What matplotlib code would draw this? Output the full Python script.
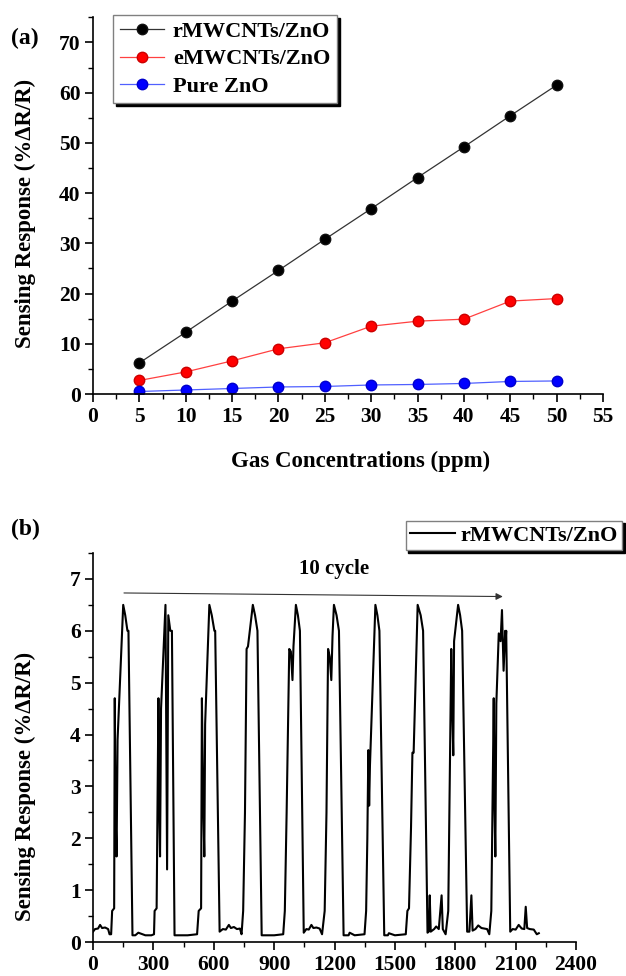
import matplotlib
matplotlib.use("Agg")
import matplotlib.pyplot as plt
from matplotlib.ticker import MultipleLocator

plt.rcParams['font.family'] = ['Liberation Serif', 'DejaVu Serif']
plt.rcParams['font.weight'] = 'bold'

# ---- panel (a): response vs concentration ----
conc = [5, 10, 15, 20, 25, 30, 35, 40, 45, 50]
r_mwcnt = [6.2, 12.3, 18.5, 24.6, 30.8, 36.9, 43.1, 49.2, 55.4, 61.5]
e_mwcnt = [2.7, 4.4, 6.6, 9.0, 10.2, 13.5, 14.5, 14.9, 18.5, 19.0]
pure_zno = [0.5, 0.8, 1.1, 1.4, 1.5, 1.8, 1.9, 2.1, 2.5, 2.6]

# ---- panel (b): 10 cycles of rMWCNTs/ZnO ----
t_cyc = [0, 10, 25, 35, 45, 60, 75, 82, 90, 95, 105, 108, 112, 117, 122, 150, 160, 171, 176, 196,
         210, 225, 260, 290, 303, 306, 316, 325, 329, 333, 338, 360, 364, 368, 374, 384, 392, 405,
         430, 470, 517, 525, 537, 541, 547, 553, 557, 578, 590, 603, 607, 629,
         645, 660, 675, 685, 700, 715, 730, 738, 746, 755, 763, 770, 794, 805, 817, 838,
         860, 900, 945, 953, 962, 975, 983, 991, 996, 1008, 1018, 1028, 1047,
         1060, 1072, 1085, 1095, 1110, 1126, 1138, 1151, 1160, 1168, 1176, 1184, 1190, 1197, 1210, 1222, 1245,
         1270, 1275, 1300, 1349, 1357, 1363, 1368, 1372, 1376, 1403, 1413, 1423, 1447,
         1465, 1470, 1500, 1554, 1562, 1570, 1580, 1587, 1593, 1613, 1628, 1640, 1662,
         1668, 1673, 1678, 1695, 1705, 1718, 1732, 1738, 1752, 1765, 1772, 1780, 1785, 1790, 1794, 1814, 1824, 1834, 1859,
         1870, 1880, 1886, 1900, 1914, 1930, 1958, 1969, 1979, 1985, 1991, 1995, 1999, 2004, 2016, 2025, 2032, 2040,
         2048, 2050, 2053, 2073, 2085, 2100, 2115, 2130, 2143, 2150, 2157, 2170, 2190, 2205, 2215]
r_cyc = [0.2, 0.25, 0.26, 0.33, 0.27, 0.28, 0.25, 0.15, 0.15, 0.6, 0.65, 4.7, 2.5, 1.65, 3.9, 6.5, 6.3, 6.0, 6.0, 0.13,
         0.13, 0.18, 0.13, 0.13, 0.15, 0.6, 0.65, 4.7, 2.6, 1.65, 4.5, 6.5, 4.0, 1.4, 6.3, 6.0, 6.0, 0.13,
         0.13, 0.13, 0.15, 0.6, 0.65, 4.7, 2.8, 1.65, 4.2, 6.5, 6.3, 6.0, 6.0, 0.2,
         0.25, 0.24, 0.33, 0.27, 0.29, 0.25, 0.26, 0.15, 0.6, 2.5, 5.65, 5.7, 6.5, 6.3, 6.0, 0.13,
         0.13, 0.13, 0.15, 0.6, 2.5, 5.65, 5.6, 5.05, 5.7, 6.5, 6.3, 6.0, 0.18,
         0.25, 0.24, 0.33, 0.27, 0.28, 0.26, 0.15, 0.6, 2.5, 5.65, 5.5, 5.05, 5.9, 6.5, 6.3, 6.0, 0.13,
         0.13, 0.18, 0.13, 0.15, 0.6, 2.0, 3.7, 2.63, 3.4, 6.5, 6.3, 6.0, 0.13,
         0.13, 0.17, 0.13, 0.15, 0.6, 0.65, 2.2, 3.65, 3.65, 6.5, 6.3, 6.0, 0.18,
         0.2, 0.9, 0.2, 0.25, 0.3, 0.25, 0.9, 0.25, 0.15, 0.6, 3.0, 5.65, 4.5, 3.6, 5.8, 6.5, 6.3, 6.0, 0.2,
         0.2, 0.9, 0.22, 0.25, 0.32, 0.27, 0.25, 0.15, 0.6, 2.6, 4.7, 2.6, 1.65, 4.6, 5.95, 5.8, 6.4, 5.23,
         6.0, 5.8, 6.0, 0.2, 0.25, 0.24, 0.33, 0.26, 0.25, 0.68, 0.27, 0.25, 0.24, 0.15, 0.17]

fig = plt.figure(figsize=(6.26, 9.76), dpi=100)
ax1 = fig.add_axes([0.1486, 0.5963, 0.8147, 0.386])
ax2 = fig.add_axes([0.1486, 0.0348, 0.7716, 0.3986])

tick_fs = 15.5
for ax in (ax1, ax2):
    for s in ('top', 'right'):
        ax.spines[s].set_visible(False)
    for s in ('left', 'bottom'):
        ax.spines[s].set_linewidth(1.2)
    ax.tick_params(which='major', direction='out', length=6, width=1.2, labelsize=tick_fs, pad=3)
    ax.tick_params(which='minor', direction='out', length=3.5, width=1.0)

ax1.plot(conc, r_mwcnt, '-o', color='#333333', lw=0.9, ms=7.5, mfc='black', mec='#111111',
         label='rMWCNTs/ZnO')
ax1.plot(conc, e_mwcnt, '-o', color='#ff4040', lw=0.9, ms=7.5, mfc='#ff0000', mec='#cc0000',
         label='eMWCNTs/ZnO')
ax1.plot(conc, pure_zno, '-o', color='#5060ff', lw=0.9, ms=7.5, mfc='#0000ff', mec='#0000cc',
         label='Pure ZnO')
ax1.set_xlim(0, 55)
ax1.set_ylim(0, 75)
ax1.xaxis.set_major_locator(MultipleLocator(5))
ax1.xaxis.set_minor_locator(MultipleLocator(2.5))
ax1.yaxis.set_major_locator(MultipleLocator(10))
ax1.yaxis.set_minor_locator(MultipleLocator(5))
ax1.set_xlabel('Gas Concentrations (ppm)', fontsize=16.5, fontweight='bold')
ax1.xaxis.set_label_coords(0.525, -0.152)
ax1.set_ylabel('Sensing Response (%ΔR/R)', fontsize=16.5, fontweight='bold')
ax1.yaxis.set_label_coords(-0.112, 0.48)
leg1 = ax1.legend(loc='upper left', bbox_to_anchor=(0.039, 1.006), fontsize=16, frameon=True,
                  fancybox=False, edgecolor='#808080', framealpha=1, handlelength=2.0,
                  handletextpad=0.4, labelspacing=0.3, borderpad=0.3, borderaxespad=0,
                  shadow={'color': 'black', 'alpha': 1})
leg1.get_frame().set_linewidth(1.0)
fig.text(0.018, 0.955, '(a)', fontsize=17, fontweight='bold')

ax2.plot(t_cyc, r_cyc, color='black', lw=1.5, label='rMWCNTs/ZnO')
ax2.set_xlim(0, 2400)
ax2.set_ylim(0, 7.5)
ax2.xaxis.set_major_locator(MultipleLocator(300))
ax2.xaxis.set_minor_locator(MultipleLocator(150))
ax2.yaxis.set_major_locator(MultipleLocator(1))
ax2.yaxis.set_minor_locator(MultipleLocator(0.5))
ax2.set_ylabel('Sensing Response (%ΔR/R)', fontsize=16.5, fontweight='bold')
ax2.yaxis.set_label_coords(-0.118, 0.40)
ax2.annotate('', xy=(2050, 6.66), xytext=(140, 6.73),
             arrowprops=dict(arrowstyle='-|>', color='#333333', lw=0.8, mutation_scale=10))
ax2.text(1200, 7.2, '10 cycle', ha='center', va='center', fontsize=15, fontweight='bold')
leg2 = ax2.legend(loc='upper right', bbox_to_anchor=(1.095, 1.083), fontsize=16, frameon=True,
                  fancybox=False, edgecolor='#808080', framealpha=1, handlelength=2.0,
                  handletextpad=0.25, borderpad=0.2, borderaxespad=0,
                  shadow={'color': 'black', 'alpha': 1})
leg2.get_frame().set_linewidth(1.0)
fig.text(0.018, 0.452, '(b)', fontsize=17, fontweight='bold')

fig.savefig('out.png', dpi=100)
